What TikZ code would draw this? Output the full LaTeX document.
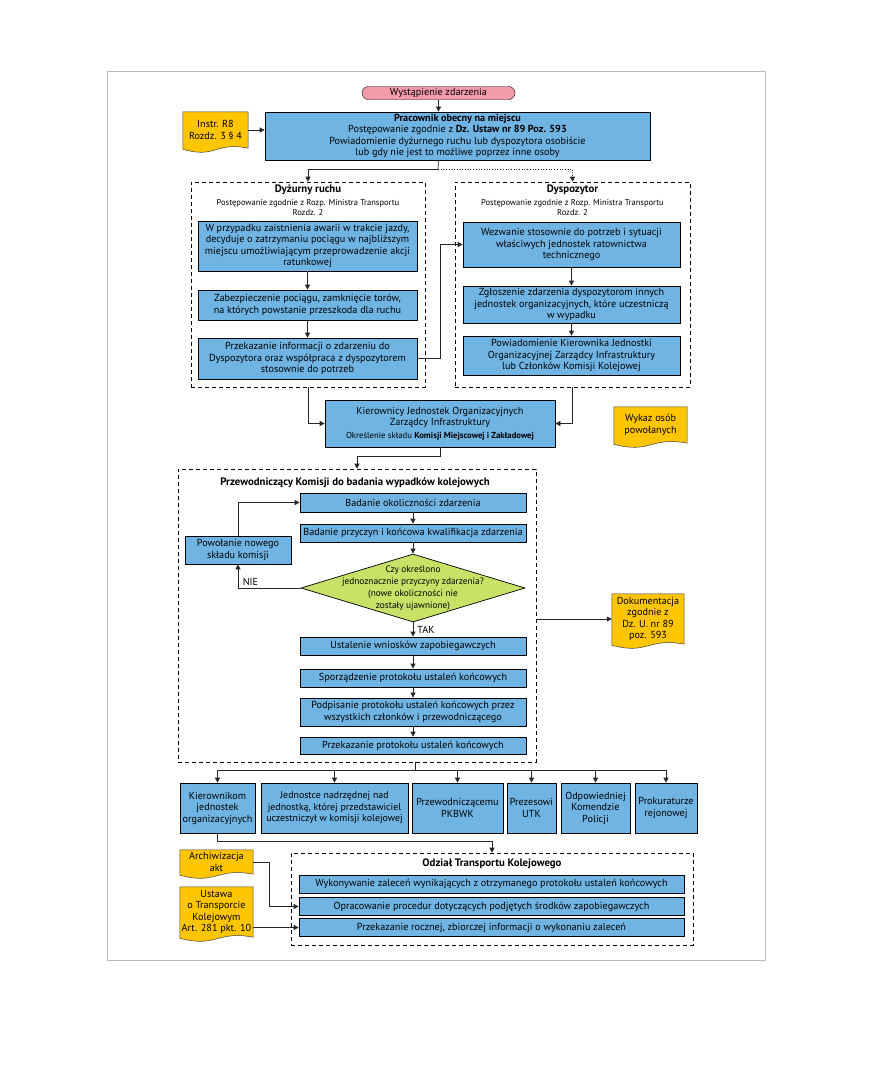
\documentclass[tikz,border=0pt]{standalone}
\usepackage{fontspec}
\setmainfont{PT Sans}
\usepackage{xcolor}
\usepackage{tikz}
\usetikzlibrary{calc, arrows.meta, positioning, shapes.geometric, backgrounds}

\definecolor{boxblue}{RGB}{112,180,228}
\definecolor{docyellow}{RGB}{255,198,0}
\definecolor{startpink}{RGB}{244,155,170}
\definecolor{decgreen}{RGB}{200,226,104}

% yellow document outline with a wavy lower edge
\newcommand{\docshape}[1]{%
  \path[docpaint] let \p1=(#1.north west), \p2=(#1.south east) in
    (\x1,\y1) -- (\x2,\y1) -- (\x2,\y2)
    .. controls ({0.5*\x1+0.5*\x2},{\y2+7pt}) and ({0.5*\x1+0.5*\x2},{\y2-11pt}) .. (\x1,{\y2-1pt}) -- cycle;}

\begin{document}
\begin{tikzpicture}[x=1pt, y=-1pt,
    every node/.style={font=\fontsize{10.2}{11.5}\selectfont},
    box/.style={draw, fill=boxblue, align=center, inner sep=0pt, line width=0.7pt},
    start/.style={draw, fill=startpink, rounded corners=6.5pt, inner sep=0pt,
                  font=\fontsize{10.2}{11}\selectfont},
    decision/.style={diamond, draw, fill=decgreen, inner sep=0pt, line width=0.7pt},
    doc/.style={align=center, inner sep=0pt},
    docpaint/.style={fill=docyellow, draw=black!75, line width=0.5pt},
    group/.style={draw, dash pattern=on 4pt off 3pt, line width=0.6pt, inner sep=0pt},
    title/.style={font=\fontsize{10.8}{12}\selectfont\bfseries},
    subtitle/.style={align=center, font=\fontsize{8.5}{9.5}\selectfont},
    line/.style={line width=0.7pt, draw=black!85},
    arr/.style={-{Triangle[length=5pt,width=5pt]}, line width=0.7pt, draw=black!85},
  ]

  \useasboundingbox (0,0) rectangle (872,1092);
  \draw[gray!55, line width=0.8pt] (107,71) rectangle (765,960);

  \node[start, minimum width=153, minimum height=13] (start) at (438.5,93) {Wystąpienie zdarzenia};
  \node[box, minimum width=385, minimum height=48] (worker) at (457.5,136)
    {\textbf{Pracownik obecny na miejscu}\\Postępowanie zgodnie z \textbf{Dz. Ustaw nr 89 Poz. 593}\\
     Powiadomienie dyżurnego ruchu lub dyspozytora osobiście\\lub gdy nie jest to możliwe poprzez inne osoby};
  \node[doc, minimum width=65, minimum height=36] (instr) at (215.5,130) {Instr. R8\\Rozdz. 3 § 4};

  % Dyzurny ruchu
  \node[group, minimum width=234, minimum height=205] (dyzurny) at (308,284.5) {};
  \node[title] (dyzurnyT) at (308,190) {Dyżurny ruchu};
  \node[subtitle] (dyzurnyS) at (308,207.5) {Postępowanie zgodnie z Rozp. Ministra Transportu\\Rozdz. 2};
  \node[box, minimum width=219, minimum height=50] (dz1) at (307.5,246)
    {W przypadku zaistnienia awarii w trakcie jazdy,\\decyduje o zatrzymaniu pociągu w najbliższym\\
     miejscu umożliwiającym przeprowadzenie akcji\\ratunkowej};
  \node[box, minimum width=219, minimum height=30] (dz2) at (307.5,305)
    {Zabezpieczenie pociągu, zamknięcie torów,\\na których powstanie przeszkoda dla ruchu};
  \node[box, minimum width=219, minimum height=41] (dz3) at (307.5,358.5)
    {Przekazanie informacji o zdarzeniu do\\Dyspozytora oraz współpraca z dyspozytorem\\stosownie do potrzeb};

  % Dyspozytor
  \node[group, minimum width=235, minimum height=205] (dyspoz) at (572.5,284.5) {};
  \node[title] (dyspozT) at (572.5,190) {Dyspozytor};
  \node[subtitle] (dyspozS) at (572.5,207.5) {Postępowanie zgodnie z Rozp. Ministra Transportu\\Rozdz. 2};
  \node[box, minimum width=217, minimum height=45] (ds1) at (571.5,244.5)
    {Wezwanie stosownie do potrzeb i sytuacji\\właściwych jednostek ratownictwa\\technicznego};
  \node[box, minimum width=217, minimum height=37] (ds2) at (571.5,304.5)
    {Zgłoszenie zdarzenia dyspozytorom innych\\jednostek organizacyjnych, które uczestniczą\\w wypadku};
  \node[box, minimum width=217, minimum height=39] (ds3) at (571.5,355.5)
    {Powiadomienie Kierownika Jednostki\\Organizacyjnej Zarządcy Infrastruktury\\lub Członków Komisji Kolejowej};

  \node[box, minimum width=230, minimum height=47] (kier) at (440,423.5)
    {Kierownicy Jednostek Organizacyjnych\\Zarządcy Infrastruktury\\[1pt]
     {\fontsize{8.7}{10}\selectfont Określenie składu \textbf{Komisji Miejscowej i Zakładowej}}};
  \node[doc, minimum width=73, minimum height=36] (wykaz) at (650.5,425) {Wykaz osób\\powołanych};

  % Przewodniczacy komisji
  \node[group, minimum width=358, minimum height=293] (przew) at (357,615.5) {};
  \node[title] (przewT) at (355,483) {Przewodniczący Komisji do badania wypadków kolejowych};
  \node[box, minimum width=226, minimum height=19] (bo) at (413,502.5) {Badanie okoliczności zdarzenia};
  \node[box, minimum width=226, minimum height=18] (bp) at (413,533) {Badanie przyczyn i końcowa kwalifikacja zdarzenia};
  \node[decision, minimum width=224, minimum height=68] (dec) at (413,588) {};
  \node[align=center, inner sep=0pt, font=\fontsize{9.3}{12}\selectfont] (decT) at (dec)
    {Czy określono\\jednoznacznie przyczyny zdarzenia?\\(nowe okoliczności nie\\zostały ujawnione)};
  \node[box, minimum width=106, minimum height=28] (pow) at (238,550) {Powołanie nowego\\składu komisji};
  \node[box, minimum width=226, minimum height=18] (us) at (413,646) {Ustalenie wniosków zapobiegawczych};
  \node[box, minimum width=226, minimum height=18] (sp) at (413,678) {Sporządzenie protokołu ustaleń końcowych};
  \node[box, minimum width=226, minimum height=28] (pd) at (413,712)
    {Podpisanie protokołu ustaleń końcowych przez\\wszystkich członków i przewodniczącego};
  \node[box, minimum width=226, minimum height=17] (pk) at (413,745.5) {Przekazanie protokołu ustaleń końcowych};
  \node[doc, minimum width=72, minimum height=50] (dok) at (648,619) {Dokumentacja\\zgodnie z\\Dz. U. nr 89\\poz. 593};

  % Adresaci protokolu
  \node[box, minimum width=75, minimum height=50] (rK) at (217.5,808) {Kierownikom\\jednostek\\organizacyjnych};
  \node[box, minimum width=147, minimum height=50, font=\fontsize{9.9}{11.5}\selectfont] (rJ) at (334.5,808)
    {Jednostce nadrzędnej nad\\jednostką, której przedstawiciel\\uczestniczył w komisji kolejowej};
  \node[box, minimum width=91, minimum height=50] (rP) at (457.5,808) {Przewodniczącemu\\PKBWK};
  \node[box, minimum width=49, minimum height=50] (rU) at (531.5,808) {Prezesowi\\UTK};
  \node[box, minimum width=69, minimum height=50] (rO) at (595.5,808) {Odpowiedniej\\Komendzie\\Policji};
  \node[box, minimum width=62, minimum height=50] (rR) at (666,808) {Prokuraturze\\rejonowej};

  % Odzial Transportu Kolejowego
  \node[group, minimum width=402, minimum height=92] (odzial) at (492,899) {};
  \node[title] (odzialT) at (492,864) {Odział Transportu Kolejowego};
  \node[box, minimum width=385, minimum height=18] (o1) at (491.5,884)
    {Wykonywanie zaleceń wynikających z otrzymanego protokołu ustaleń końcowych};
  \node[box, minimum width=385, minimum height=18] (o2) at (491.5,906.5)
    {Opracowanie procedur dotyczących podjętych środków zapobiegawczych};
  \node[box, minimum width=385, minimum height=18] (o3) at (491.5,927.5)
    {Przekazanie rocznej, zbiorczej informacji o wykonaniu zaleceń};
  \node[doc, minimum width=73, minimum height=24] (arch) at (216.5,862) {Archiwizacja\\akt};
  \node[doc, minimum width=73, minimum height=50] (ustawa) at (216.5,912)
    {Ustawa\\o Transporcie\\Kolejowym\\Art. 281 pkt. 10};

  \begin{scope}[on background layer]
    \docshape{instr}
    \docshape{wykaz}
    \docshape{dok}
    \docshape{arch}
    \docshape{ustawa}
  \end{scope}

  % connectors
  \coordinate (split) at (438,169);
  \draw[arr] (start) -- (start |- worker.north);
  \draw[arr] (instr.east) -- (instr.east -| worker.west);
  \draw[line] (start |- worker.south) -- (split);
  \draw[arr] (split) -| (dyzurny.north);
  \draw[arr, dotted] (split) -| (dyspoz.north);

  \draw[arr] (dz1) -- (dz2);
  \draw[arr] (dz2) -- (dz3);
  \draw[arr] (dz3.east) -- ++(23,0) |- (ds1.west);
  \draw[arr] (ds1) -- (ds2);
  \draw[arr] (ds2) -- (ds3);

  \draw[arr] (dyzurny.south) |- (kier.west);
  \draw[arr] (dyspoz.south) |- (kier.east);
  \draw[arr] (kier.south) -- ++(0,9) -| (przew.north);

  \draw[arr] (pow.north) |- (bo.west);
  \draw[arr] (bo) -- (bp);
  \draw[arr] (bp) -- (dec);
  \draw[arr] (dec.west) -| node[pos=0.4, above, inner sep=2pt] (nie) {NIE} (pow.south);
  \draw[arr] (dec.south) -- node[right, inner sep=4pt] (tak) {TAK} (us.north);
  \draw[arr] (us) -- (sp);
  \draw[arr] (sp) -- (pd);
  \draw[arr] (pd) -- (pk);
  \draw[arr] (przew.east |- dok.west) -- (dok.west);

  \coordinate (fan) at (415,770);
  \draw[line] (przew.south -| fan) -- (fan);
  \draw[line] (rK.north |- fan) -- (rR.north |- fan);
  \foreach \n in {rK,rJ,rP,rU,rO,rR}
    \draw[arr] (\n.north |- fan) -- (\n.north);

  \draw[arr] (rK.south) -- ++(0,8) -| (odzial.north);
  \draw[arr] (arch.east) -- ++(16,0) |- (o2.west);
  \draw[arr] (ustawa.east |- o3.west) -- (o3.west);
\end{tikzpicture}
\end{document}
